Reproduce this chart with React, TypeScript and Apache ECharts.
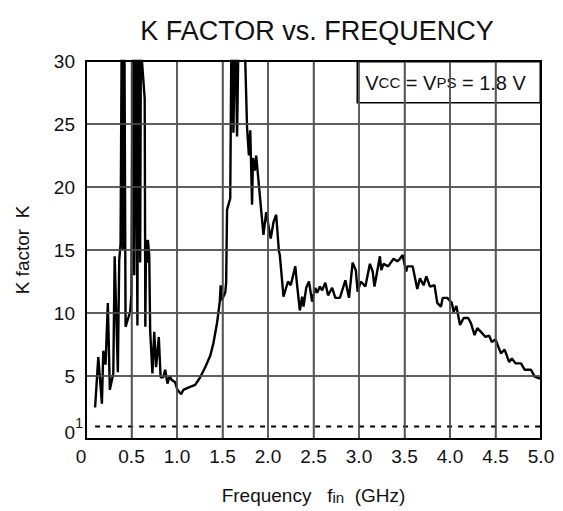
import React, { useEffect, useRef } from "react";
import * as echarts from "echarts";

const freqGHz: number[] = [
  0.1, 0.135, 0.175, 0.19, 0.215, 0.24, 0.262, 0.3, 0.315, 0.35, 0.365, 0.38, 0.395, 0.405, 0.42, 0.435,
  0.485, 0.5, 0.515, 0.53, 0.545, 0.565, 0.575, 0.595, 0.605, 0.61, 0.645, 0.652, 0.66, 0.672, 0.68, 0.695,
  0.705, 0.73, 0.75, 0.77, 0.8, 0.82, 0.85, 0.87, 0.895, 0.92, 0.94, 0.98, 1.005, 1.045, 1.07, 1.13, 1.2,
  1.255, 1.31, 1.365, 1.4, 1.44, 1.47, 1.48, 1.49, 1.53, 1.54, 1.55, 1.585, 1.6, 1.62, 1.64, 1.66, 1.68,
  1.72, 1.75, 1.77, 1.79, 1.805, 1.825, 1.835, 1.855, 1.87, 1.95, 1.98, 2.03, 2.06, 2.09, 2.12, 2.13, 2.17,
  2.22, 2.25, 2.3, 2.32, 2.35, 2.375, 2.39, 2.42, 2.45, 2.485, 2.52, 2.54, 2.57, 2.595, 2.63, 2.66, 2.705,
  2.74, 2.79, 2.85, 2.89, 2.93, 2.965, 2.985, 3.02, 3.07, 3.12, 3.15, 3.17, 3.23, 3.245, 3.27, 3.32, 3.38,
  3.42, 3.45, 3.48, 3.5, 3.52, 3.53, 3.59, 3.64, 3.67, 3.71, 3.74, 3.78, 3.83, 3.86, 3.9, 3.92, 3.97, 4.02,
  4.04, 4.07, 4.11, 4.15, 4.2, 4.23, 4.27, 4.3, 4.34, 4.39, 4.43, 4.46, 4.5, 4.56, 4.6, 4.65, 4.68, 4.72,
  4.78, 4.82, 4.89, 4.93, 4.99,
];

const kFactor: number[] = [
  2.5, 6.5, 2.8, 7.0, 5.9, 10.8, 3.9, 5.2, 14.5, 5.3, 14.2, 15.5, 36, 15, 36, 8.9,
  10.1, 11.5, 36, 13, 36, 9.0, 36, 14, 36, 30.5, 27.0, 8.9, 15.8, 14.0, 15.8, 14.6,
  8.6, 5.2, 8.5, 5.7, 8.1, 4.9, 4.9, 5.5, 4.4, 5.0, 4.7, 4.5, 3.9, 3.55, 3.9, 4.1, 4.3,
  4.9, 5.7, 6.6, 7.6, 9.2, 10.9, 12.2, 11.0, 11.6, 12.4, 18.2, 19.1, 34, 24.3, 34, 24.0, 34,
  32, 30, 24.7, 22.5, 24.5, 18.6, 22.3, 21.3, 22.5, 16.2, 18.0, 15.9, 17.2, 17.8, 14.9, 14.6, 11.3,
  12.5, 12.2, 13.7, 12.2, 10.2, 11.3, 10.5, 12.0, 12.5, 10.9, 12.0, 11.6, 12.1, 11.8, 12.4, 11.4, 12.0,
  11.2, 11.2, 12.6, 11.2, 14.0, 13.4, 11.7, 12.5, 12.1, 13.9, 13.3, 12.1, 14.5, 13.4, 13.9, 13.7, 14.3,
  14.1, 14.3, 14.6, 13.9, 13.3, 13.7, 13.7, 11.9, 12.75, 12.2, 12.9, 12.1, 12.2, 10.8, 10.5, 11.2, 11.2, 10.8,
  10.1, 10.55, 9.05, 9.6, 9.6, 9.2, 8.25, 8.8, 8.5, 8.1, 8.2, 7.7, 7.9, 6.8, 7.1, 6.1, 6.4, 6.0,
  6.0, 5.5, 5.5, 4.95, 4.8,
];

const referenceX: number[] = [0.1, 5.0];
const referenceK: number[] = [1, 1];

const xMin = 0;
const xMax = 5;
const yMin = 0;
const yMax = 30;
const xGridValues: number[] = [0.5, 1.0, 1.5, 2.0, 2.5, 3.0, 3.5, 4.0, 4.5];
const yGridValues: number[] = [5, 10, 15, 20, 25];

export default function App() {
  const ref = useRef<HTMLDivElement>(null);

  useEffect(() => {
    if (!ref.current) return;
    const chart = echarts.init(ref.current, null, { renderer: "svg" });
    const font = "Liberation Sans, Arial, Helvetica, sans-serif";
    const frameLine = { show: true, onZero: false, lineStyle: { color: "#000", width: 2 } };
    const gridLineStyle = { color: "#555555", width: 1.5, opacity: 1 };

    const gridSeries: any[] = [
      ...xGridValues.map((v) => ({
        type: "line",
        silent: true,
        data: [
          [v, yMin],
          [v, yMax],
        ],
        showSymbol: false,
        symbol: "none",
        lineStyle: gridLineStyle,
        z: 4,
        zlevel: 0,
      })),
      ...yGridValues.map((v) => ({
        type: "line",
        silent: true,
        data: [
          [xMin, v],
          [xMax, v],
        ],
        showSymbol: false,
        symbol: "none",
        lineStyle: gridLineStyle,
        z: 4,
        zlevel: 0,
      })),
    ];

    const option: any = {
      animation: false,
      textStyle: { fontFamily: font, color: "#000" },
      title: {
        text: "K FACTOR vs. FREQUENCY",
        left: 312,
        textAlign: "center",
        top: 12,
        textStyle: { fontFamily: font, fontSize: 27, fontWeight: "normal", color: "#111" },
      },
      grid: {
        left: 86,
        right: 22,
        top: 61,
        bottom: 72,
        containLabel: false,
      },
      xAxis: [
        {
          type: "value",
          min: xMin,
          max: xMax,
          interval: 0.5,
          position: "bottom",
          name: "Frequency   f{sub|in}  (GHz)",
          nameLocation: "middle",
          nameGap: 46,
          nameTextStyle: {
            fontFamily: font,
            fontSize: 19,
            color: "#111",
            rich: { sub: { fontSize: 15, fontFamily: font, color: "#111", padding: [5, 0, 0, 0] } },
          },
          axisLine: frameLine,
          axisTick: { show: false },
          splitLine: { show: true, lineStyle: gridLineStyle },
          axisLabel: {
            margin: 8,
            fontSize: 19,
            fontFamily: font,
            color: "#111",
            showMinLabel: true,
            showMaxLabel: true,
            formatter: (v: number) => (v === 0 ? "{zero|0}" : v.toFixed(1)),
            rich: { zero: { fontSize: 19, fontFamily: font, color: "#111", padding: [0, 10, 0, 0] } },
          },
          z: 10,
        },
        {
          type: "value",
          min: xMin,
          max: xMax,
          interval: 0.5,
          position: "top",
          axisLine: frameLine,
          axisTick: { show: false },
          axisLabel: { show: false },
          splitLine: { show: false },
          z: 10,
        },
      ],
      yAxis: [
        {
          type: "value",
          min: yMin,
          max: yMax,
          interval: 5,
          position: "left",
          name: "K factor  K",
          nameLocation: "middle",
          nameGap: 54,
          nameTextStyle: { fontFamily: font, fontSize: 19, color: "#111" },
          axisLine: frameLine,
          axisTick: { show: false },
          splitLine: { show: true, lineStyle: gridLineStyle },
          axisLabel: {
            margin: 11,
            showMinLabel: true,
            showMaxLabel: true,
            fontFamily: font,
            color: "#111",
            formatter: (v: number) => (v === 0 ? "{zero|0}" : "{n|" + v + "}"),
            rich: {
              n: { fontSize: 19, fontFamily: font, color: "#111" },
              zero: { fontSize: 19, fontFamily: font, color: "#111", padding: [0, 0, 14, 0] },
            },
          },
          z: 10,
        },
        {
          type: "value",
          min: yMin,
          max: yMax,
          interval: 5,
          position: "right",
          axisLine: frameLine,
          axisTick: { show: false },
          axisLabel: { show: false },
          splitLine: { show: false },
          z: 10,
        },
      ],
      graphic: [
        {
          type: "group",
          right: 22,
          top: 61,
          z: 100,
          children: [
            {
              type: "rect",
              shape: { x: 0, y: 0, width: 183, height: 41 },
              style: { fill: "#fff", stroke: "#000", lineWidth: 1.5 },
            },
            {
              type: "text",
              x: 8,
              y: 21,
              style: {
                text: "{b|V}{s|CC}{b| = V}{s|PS}{b| = 1.8 V}",
                verticalAlign: "middle",
                fontFamily: font,
                rich: {
                  b: { fontSize: 20, fontFamily: font, fill: "#111" },
                  s: { fontSize: 15, fontFamily: font, fill: "#111" },
                },
              },
            },
          ],
        },
      ],
      series: [
        ...gridSeries,
        {
          type: "line",
          name: "K",
          data: freqGHz.map((f, i) => [f, kFactor[i]]),
          showSymbol: false,
          symbol: "none",
          clip: true,
          lineStyle: { color: "#000", width: 2.4 },
          z: 6,
        },
        {
          type: "line",
          name: "K = 1",
          data: referenceX.map((f, i) => [f, referenceK[i]]),
          showSymbol: false,
          symbol: "none",
          lineStyle: { color: "#000", width: 2, type: [5, 6] },
          z: 5,
          markPoint: {
            silent: true,
            symbol: "circle",
            symbolSize: 0,
            data: [
              {
                coord: [0, 1],
                label: {
                  show: true,
                  formatter: "1",
                  position: "left",
                  distance: 3,
                  offset: [0, -3],
                  fontFamily: font,
                  fontSize: 14,
                  color: "#111",
                },
              },
            ],
          },
        },
      ],
    };
    chart.setOption(option);
    return () => chart.dispose();
  }, []);

  return (
    <div
      ref={ref}
      style={{ position: "fixed", left: 0, top: 0, width: 563, height: 511, background: "#fff" }}
    />
  );
}
